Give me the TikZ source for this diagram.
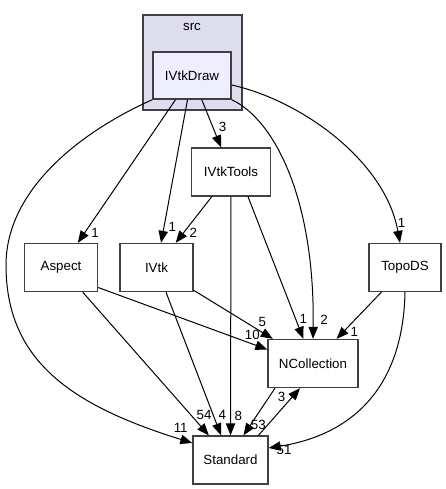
\documentclass[tikz,border=0pt]{standalone}
\usepackage{fontspec}
\setmainfont{Liberation Sans}
\usetikzlibrary{arrows.meta,calc}

\definecolor{clusterfill}{HTML}{DDDDEE}
\definecolor{dirfill}{HTML}{EEEEFF}
\definecolor{border}{HTML}{404040}

\begin{document}
\begin{tikzpicture}[
  x=0.75pt, y=-0.75pt,
  font=\fontsize{10}{12}\selectfont,
  d/.style={draw=border, line width=1pt, fill=white, minimum height=36pt, inner sep=2pt},
  cur/.style={d, fill=dirfill, minimum height=35.25pt},
  arr/.style={-{Triangle[length=9pt,width=7pt]}, line width=0.75pt},
  num/.style={inner sep=0pt}
]
\useasboundingbox (0,0) rectangle (446,489);

% cluster src
\draw[draw=border, line width=1pt, fill=clusterfill] (143,15) rectangle (242,110);
\node (srcLabel) at (192,27) {src};

\node[cur, minimum width=58.5pt] (IVtkDraw) at (192,75.5) {IVtkDraw};
\node[d, minimum width=59.25pt] (IVtkTools) at (231,172) {IVtkTools};
\node[d, minimum width=54.75pt] (Aspect) at (61,267.5) {Aspect};
\node[d, minimum width=54.75pt] (IVtk) at (156.5,267.5) {IVtk};
\node[d, minimum width=54pt] (TopoDS) at (405,267.5) {TopoDS};
\node[d, minimum width=67.5pt] (NCollection) at (313,363.5) {NCollection};
\node[d, minimum width=56.25pt] (Standard) at (230.5,460) {Standard};

\draw[arr] (IVtkDraw) -- (IVtkTools) node[num] (n1) at (222.7,126.7) {3};
\draw[arr] (IVtkDraw) -- (Aspect) node[num] (n2) at (95,233.3) {1};
\draw[arr] (IVtkDraw) -- (IVtk) node[num] (n3) at (172.3,226.7) {1};
\draw[arr] ($(IVtkDraw.east)+(0,9.5)$) .. controls (300,100) and (385,160) .. ($(TopoDS.north)+(-5,0)$)
  node[num] (n4) at (401.7,222.7) {1};
\draw[arr] (IVtkDraw.south east) .. controls (275,120) and (315,200) .. (NCollection.north)
  node[num] (n5) at (324,320) {2};
\draw[arr] (IVtkDraw.south west) .. controls (80,132) and (6,190) .. (6,265)
  .. controls (6,360) and (70,405) .. ($(Standard.west)+(0,-17)$)
  node[num] (n6) at (180.7,428.3) {11};

\draw[arr] (IVtkTools) -- (IVtk) node[num] (n7) at (193.3,233.3) {2};
\draw[arr] ($(IVtkTools.south)+(17,0)$) -- (NCollection) node[num] (n8) at (303.3,319.3) {1};
\draw[arr] (IVtkTools) -- (Standard) node[num] (n9) at (238.3,416) {8};

\draw[arr] ($(Aspect.east)+(0,20)$) -- ($(NCollection.west)+(0,-14)$) node[num] (n10) at (252.3,335) {10};
\draw[arr] (Aspect) -- (Standard) node[num] (n11) at (204,415) {54};

\draw[arr] (IVtk) -- (NCollection) node[num] (n12) at (262.3,321.7) {5};
\draw[arr] (IVtk) -- (Standard) node[num] (n13) at (222.3,415) {4};

\draw[arr] (TopoDS) -- (NCollection) node[num] (n14) at (354.3,331.7) {1};
\draw[arr] (TopoDS.south) .. controls (403,390) and (350,435) .. ($(Standard.east)+(0,-12)$)
  node[num] (n15) at (284,450) {51};

\draw[arr] ($(NCollection.south)+(-38,0)$) -- ($(Standard.north)+(13,0)$) node[num] (n16) at (258.3,425) {53};
\draw[arr] ($(Standard.north)+(28,0)$) -- ($(NCollection.south)+(-13,0)$) node[num] (n17) at (281.7,396.7) {3};

\end{tikzpicture}
\end{document}
